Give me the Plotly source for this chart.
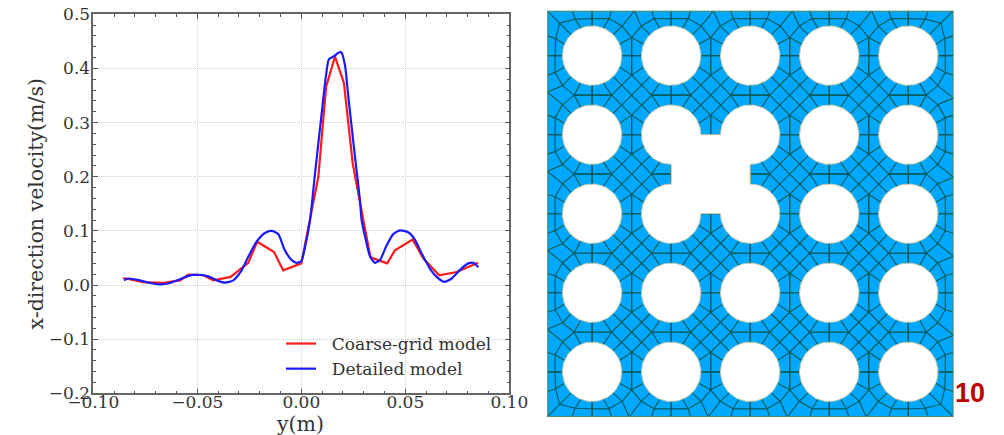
import math
import plotly.graph_objects as go

# ---------- line chart data ----------
coarse_y_pos = [-0.0856,-0.076,-0.0663,-0.0583,-0.0543,-0.047,-0.0423,-0.034,-0.0255,-0.0212,-0.0131,-0.0087,0.0,0.0042,0.0082,0.0119,0.0162,0.0205,0.0247,0.0298,0.0333,0.0413,0.045,0.0535,0.0587,0.0663,0.0747,0.085]
coarse_velocity = [0.013,0.0055,0.004,0.0086,0.019,0.018,0.0086,0.015,0.041,0.080,0.061,0.027,0.040,0.125,0.2,0.366,0.422,0.373,0.225,0.12,0.051,0.040,0.064,0.084,0.049,0.018,0.024,0.041]
detailed_y_pos = [-0.0853,-0.0832,-0.0776,-0.0728,-0.068,-0.0631,-0.0583,-0.0543,-0.0495,-0.0447,-0.0407,-0.0367,-0.0327,-0.0287,-0.0255,-0.0215,-0.0175,-0.0143,-0.0111,-0.0079,-0.0046,-0.0022,0.0,0.0018,0.0042,0.0066,0.0098,0.0119,0.0133,0.0159,0.0178,0.0192,0.021,0.0226,0.0258,0.0282,0.029,0.0314,0.033,0.0354,0.0378,0.041,0.0442,0.0474,0.0514,0.0546,0.0579,0.0619,0.0651,0.0686,0.0723,0.0763,0.0803,0.0827,0.0851]
detailed_velocity = [0.0086,0.012,0.0086,0.0037,0.0012,0.0037,0.0105,0.017,0.019,0.016,0.0086,0.0043,0.0086,0.027,0.052,0.08,0.096,0.1,0.094,0.064,0.046,0.041,0.044,0.07,0.12,0.206,0.317,0.388,0.417,0.423,0.429,0.43,0.406,0.348,0.237,0.157,0.12,0.077,0.053,0.041,0.046,0.073,0.094,0.101,0.0975,0.084,0.058,0.030,0.015,0.006,0.012,0.028,0.04,0.041,0.033]
x_ticks = [-0.10,-0.05,0.0,0.05,0.10]
y_ticks = [-0.2,-0.1,0.0,0.1,0.2,0.3,0.4,0.5]

# ---------- mesh geometry (units are pixels of the panel) ----------
W, H = 1004, 435
SIZE = 406.2
N = 5
PITCH = 79.05
FIRST = 44.8
R = 29.7
HP = PITCH / 2
DIA = 20.0
centers = [FIRST + PITCH * k for k in range(N)]
cavity_lobes = [(1, 1), (2, 1), (2, 2), (1, 2)]
edge_shift = {"top": 2.7, "bottom": -2.5, "left": -3.0, "right": 3.0}

segs = []
def seg(a, b):
    segs.append((a, b))

def on_circle(deg):
    t = math.radians(deg)
    return (R * math.cos(t), R * math.sin(t))

for j, cy in enumerate(centers):
    for i, cx in enumerate(centers):
        for sx in (-1, 1):
            for sy in (-1, 1):
                bx = (i == 0 and sx < 0) or (i == N - 1 and sx > 0)
                by = (j == 0 and sy < 0) or (j == N - 1 and sy > 0)
                def P(u, v):
                    return (cx + sx * u, cy + sy * v)
                if not bx and not by:
                    v1, v2 = (HP, HP - DIA), (HP - DIA, HP)
                    m = (HP - DIA / 2, HP - DIA / 2)
                    seg(P(*on_circle(0)), P(HP, 0))
                    seg(P(HP, 0), P(*v1))
                    seg(P(*on_circle(90)), P(0, HP))
                    seg(P(0, HP), P(*v2))
                    seg(P(*on_circle(22.5)), P(*v1))
                    seg(P(*on_circle(67.5)), P(*v2))
                    seg(P(*on_circle(45)), P(*m))
                    seg(P(*v1), P(*v2))
                    seg(P(*m), P(HP, HP))
                elif bx and by:
                    ex = FIRST if i == 0 else SIZE - centers[-1]
                    ey = FIRST if j == 0 else SIZE - centers[-1]
                    rng = [(0, 37), (17, 36.5), (32.5, 32.5), (36.5, 17), (37, 0)]
                    for a, b in zip(rng, rng[1:]):
                        seg(P(*a), P(*b))
                    seg(P(0, R), P(0, ey))
                    seg(P(R, 0), P(ex, 0))
                    seg(P(*on_circle(67.5)), P(17, 36.5))
                    seg(P(17, 36.5), P(20, ey))
                    seg(P(*on_circle(22.5)), P(36.5, 17))
                    seg(P(36.5, 17), P(ex, 20))
                    seg(P(*on_circle(45)), P(32.5, 32.5))
                    seg(P(32.5, 32.5), P(ex, ey))
                else:
                    # u runs along the outer edge, v runs towards the outer edge
                    if by:
                        side = "top" if sy < 0 else "bottom"
                        e = FIRST if j == 0 else SIZE - centers[-1]
                        Q = lambda u, v: (cx + sx * u, cy + sy * v)
                        peak_u = HP + sx * edge_shift[side]
                        ang = lambda d: on_circle(d)
                    else:
                        side = "left" if sx < 0 else "right"
                        e = FIRST if i == 0 else SIZE - centers[-1]
                        Q = lambda u, v: (cx + sx * v, cy + sy * u)
                        peak_u = HP + sy * edge_shift[side]
                        ang = lambda d: on_circle(90 - d)
                    def C(d):
                        px, py = ang(d)
                        return (cx + sx * px, cy + sy * py)
                    n67, n45, vn = (17, 37), (30, 29.5), (HP, 18)
                    seg(C(90), Q(0, e))
                    seg(Q(0, 37), Q(*n67))
                    seg(Q(*n67), Q(19.5, e))
                    seg(C(67.5), Q(*n67))
                    seg(Q(*n67), Q(*n45))
                    seg(C(45), Q(*n45))
                    seg(Q(*n45), Q(peak_u, e))
                    seg(Q(*n45), Q(*vn))
                    seg(C(22.5), Q(*vn))
                    seg(Q(*vn), Q(HP, 0))
                    seg(Q(HP, 0), C(0))

mesh_x, mesh_y = [], []
for a, b in segs:
    mesh_x += [a[0], b[0], None]
    mesh_y += [a[1], b[1], None]

hole_x, hole_y = [], []
lobe_set = set(cavity_lobes)
for j, cy in enumerate(centers):
    for i, cx in enumerate(centers):
        if (i, j) in lobe_set:
            continue
        for k in range(73):
            t = 2 * math.pi * k / 72
            hole_x.append(cx + R * math.cos(t))
            hole_y.append(cy + R * math.sin(t))
        hole_x.append(None)
        hole_y.append(None)
for (i, j), start in zip(cavity_lobes, (90, 180, 270, 0)):
    for k in range(55):
        t = math.radians(start + 270 * k / 54)
        hole_x.append(centers[i] + R * math.cos(t))
        hole_y.append(centers[j] + R * math.sin(t))
hole_x.append(centers[1] + R * math.cos(math.radians(90)))
hole_y.append(centers[1] + R * math.sin(math.radians(90)))

# ---------- figure ----------
fig = go.Figure()
SERIF = "DejaVu Serif"
INK = "#333333"
LEGEND_PAD = "\u00a0\u00a0"
fig.add_trace(go.Scatter(x=coarse_y_pos, y=coarse_velocity, mode="lines", name=LEGEND_PAD + "Coarse-grid model",
                         line=dict(color="#ff1a1a", width=2.2)))
fig.add_trace(go.Scatter(x=detailed_y_pos, y=detailed_velocity, mode="lines", name=LEGEND_PAD + "Detailed model",
                         line=dict(color="#1a1aff", width=2.2, shape="spline", smoothing=0.6)))

box_x = [0, SIZE, SIZE, 0, 0]
box_y = [0, 0, SIZE, SIZE, 0]
fig.add_trace(go.Scatter(x=box_x, y=box_y, xaxis="x2", yaxis="y2", mode="lines", fill="toself",
                         fillcolor="#00a9ff", line=dict(width=0), showlegend=False, hoverinfo="skip"))
fig.add_trace(go.Scatter(x=mesh_x, y=mesh_y, xaxis="x2", yaxis="y2", mode="lines",
                         line=dict(color="#075a58", width=1.15), showlegend=False, hoverinfo="skip"))
fig.add_trace(go.Scatter(x=hole_x, y=hole_y, xaxis="x2", yaxis="y2", mode="lines", fill="toself",
                         fillcolor="#ffffff", line=dict(color="#c3c8a6", width=1),
                         showlegend=False, hoverinfo="skip"))
fig.add_trace(go.Scatter(x=box_x, y=box_y, xaxis="x2", yaxis="y2", mode="lines",
                         line=dict(color="#4f8a63", width=2), cliponaxis=False,
                         showlegend=False, hoverinfo="skip"))

axis_common = dict(showline=True, linecolor="#666666", linewidth=1.5, mirror="allticks", automargin=False,
                   ticks="inside", ticklen=5, tickwidth=1, tickcolor="#555555",
                   showgrid=True, gridcolor="#cfcfcf", griddash="1px,1px", gridwidth=1,
                   zeroline=False, tickfont=dict(family=SERIF, size=17, color=INK))
title_font = dict(family=SERIF, size=20.5, color=INK)
fig.update_layout(
    width=W, height=H, margin=dict(l=0, r=0, t=0, b=0),
    paper_bgcolor="white", plot_bgcolor="white",
    xaxis=dict(domain=[93.3 / W, 509.3 / W], range=[-0.10, 0.10], tickvals=x_ticks, tickformat=".2f",
               ticklabelstandoff=-7,
               minor=dict(dtick=0.01, ticks="inside", ticklen=2.5, tickcolor="#555555", showgrid=False),
               **axis_common),
    yaxis=dict(domain=[1 - 393.3 / H, 1 - 14.3 / H], range=[-0.2, 0.5], tickvals=y_ticks, tickformat=".1f",
               ticklabelstandoff=-2,
               minor=dict(dtick=0.02, ticks="inside", ticklen=2.5, tickcolor="#555555", showgrid=False),
               **axis_common),
    xaxis2=dict(domain=[547.3 / W, 953.5 / W], range=[0, SIZE], visible=False, anchor="y2"),
    yaxis2=dict(domain=[1 - 417.0 / H, 1 - 10.8 / H], range=[SIZE, 0], visible=False, anchor="x2"),
    legend=dict(x=281 / W, y=1 - 326 / H, xanchor="left", yanchor="top", bgcolor="rgba(0,0,0,0)",
                font=dict(family=SERIF, size=17, color=INK), itemwidth=30),
    annotations=[
        dict(text="<b>10</b>", xref="paper", yref="paper", x=970 / W, y=1 - 393 / H,
             showarrow=False, xanchor="center", yanchor="middle",
             font=dict(family="Liberation Sans", size=27, color="#c00000")),
        dict(text="y(m)", xref="paper", yref="paper", x=300 / W, y=1 - 424 / H,
             showarrow=False, xanchor="center", yanchor="middle", font=title_font),
        dict(text="x-direction velocity(m/s)", xref="paper", yref="paper", x=35 / W, y=1 - 204.5 / H,
             textangle=-90, showarrow=False, xanchor="center", yanchor="middle", font=title_font),
    ],
)
fig.write_html("out.html", config=dict(displayModeBar=False),
               post_script="document.body.style.margin='0';document.body.style.overflow='hidden';")
